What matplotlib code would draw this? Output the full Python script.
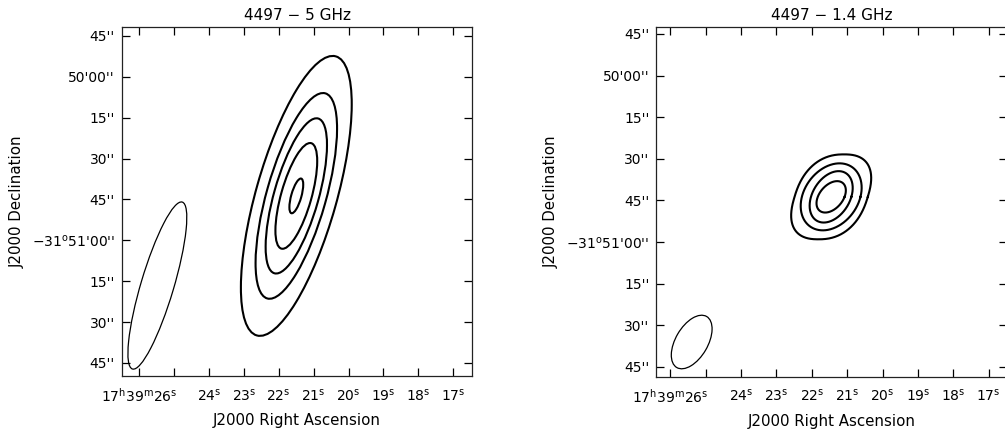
import numpy as np
import matplotlib
matplotlib.use("Agg")
import matplotlib.pyplot as plt
from matplotlib.patches import Ellipse

plt.rcParams['font.family'] = ['DejaVu Sans']
plt.rcParams['mathtext.fontset'] = 'dejavusans'

# ---- axis tick data ----
ra_tick_sec = [26, 25, 24, 23, 22, 21, 20, 19, 18, 17]
ra_tick_labels = [r'17$^{\rm h}$39$^{\rm m}$26$^{\rm s}$', '',
                  r'24$^{\rm s}$', r'23$^{\rm s}$', r'22$^{\rm s}$', r'21$^{\rm s}$',
                  r'20$^{\rm s}$', r'19$^{\rm s}$', r'18$^{\rm s}$', r'17$^{\rm s}$']
dec_tick_arcsec = [75, 60, 45, 30, 15, 0, -15, -30, -45]   # offset from -31d51m00s
dec_tick_labels = ["45''", "50'00''", "15''", "30''", "45''",
                   r"$-$31$^{\rm o}$51'00''", "15''", "30''", "45''"]

titles = ["4497 \u2212 5 GHz", "4497 \u2212 1.4 GHz"]

# ---- 5 GHz source contours (arcsec; x = offset west of 26s, y = dec offset) ----
src5_center = (57.4, 16.3)
src5_major = [106.4, 78.2, 59.0, 40.2, 13.2]
src5_minor = [29.5, 21.7, 16.3, 11.1, 3.7]
src5_tilt = [15.7, 15.7, 15.7, 15.7, 15.7]

# ---- 1.4 GHz source contours (half-width, half-height, shear, squareness) ----
src14_center = (57.95, 16.3)
src14_halfwidth = [13.2, 10.56, 7.28, 4.83]
src14_halfheight = [15.3, 12.07, 9.26, 5.66]
src14_shear = [0.30, 0.25, 0.29, 0.38]
src14_power = [2.4, 2.0, 2.0, 2.0]

# ---- restoring beams ----
beam5 = dict(center=(6.7, -16.6), major=63.9, minor=12.0, tilt=16.5)
beam14 = dict(center=(7.7, -36.0), major=21.3, minor=11.6, tilt=30.3)

ARCSEC_PER_SEC = 15 * np.cos(np.deg2rad(31.85))


def ra_to_x(sec):
    return (26 - np.asarray(sec, dtype=float)) * ARCSEC_PER_SEC


def sheared_contour(ax, center, A, B, k, n, lw):
    t = np.linspace(0, 2 * np.pi, 721)
    c, s = np.cos(t), np.sin(t)
    u = A * np.sign(c) * np.abs(c) ** (2.0 / n)
    v = B * np.sign(s) * np.abs(s) ** (2.0 / n)
    ax.plot(center[0] + u + k * v, center[1] + v, color='black', lw=lw,
            solid_joinstyle='round')


fig = plt.figure(figsize=(10.05, 4.32), dpi=100)
axL = fig.add_axes([122 / 1005, 56 / 432, 350 / 1005, 349.3 / 432])
axR = fig.add_axes([656.3 / 1005, 55.3 / 432, 351 / 1005, 350 / 432])

# left panel contours
for mj, mn, t in zip(src5_major, src5_minor, src5_tilt):
    axL.add_patch(Ellipse(src5_center, width=mn, height=mj, angle=-t,
                          fill=False, ec='black', lw=1.5))
# right panel contours
for A, B, k, n in zip(src14_halfwidth, src14_halfheight, src14_shear, src14_power):
    sheared_contour(axR, src14_center, A, B, k, n, 1.5)

panels = [
    (axL, titles[0], beam5, (-6.2, 121.5), (-49.8, 78.4)),
    (axR, titles[1], beam14, (-5.05, 121.4), (-48.5, 77.6)),
]

for ax, title, beam, xl, yl in panels:
    ax.add_patch(Ellipse(beam['center'], width=beam['minor'], height=beam['major'],
                         angle=-beam['tilt'], fill=False, ec='black', lw=0.9))
    ax.set_xlim(*xl)
    ax.set_ylim(*yl)
    ax.set_xticks(ra_to_x(ra_tick_sec))
    ax.set_xticklabels(ra_tick_labels)
    ax.set_yticks(dec_tick_arcsec)
    ax.set_yticklabels(dec_tick_labels)
    ax.tick_params(direction='in', length=6, width=0.9, top=True, right=True,
                   labelsize=10, colors='black', pad=5)
    ax.tick_params(axis='x', pad=8)
    for s in ax.spines.values():
        s.set_linewidth(0.9)
        s.set_color('#222222')
    ax.set_title(title, fontsize=11, pad=4.5)
    ax.set_xlabel('J2000 Right Ascension', fontsize=10.8, labelpad=6)
    ax.set_ylabel('J2000 Declination', fontsize=10.8, labelpad=5)

fig.savefig('out.png', dpi=100)
